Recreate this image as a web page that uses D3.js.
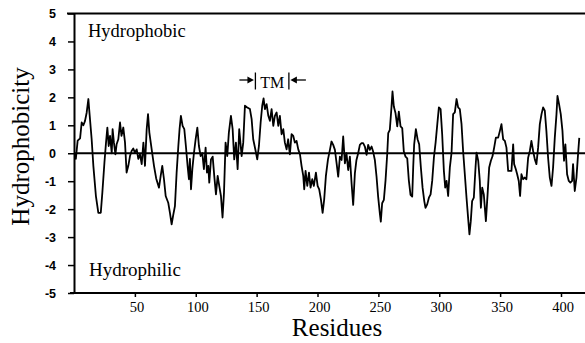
<!DOCTYPE html>
<html><head><meta charset="utf-8">
<script src="https://cdn.jsdelivr.net/npm/d3@7"></script>
<style>body{margin:0;background:#fff}svg{display:block}</style>
</head><body>
<svg id="c" width="585" height="343"></svg>
<script>
const residues = [1,1.5,3,5,6.3,7.7,9,10.4,11.8,12.6,14.5,15.9,18,20,22,23.3,25,26.3,27.4,28.5,29.6,31,31.7,32.8,34,35,36.4,37.8,39,40.5,41.9,43.2,44.6,46,47.3,48.7,50,51.5,52.8,54.2,55.6,57,58.3,59.7,60.8,61.9,63.8,65.7,
67.5,69.8,71.2,72.5,73.9,75.3,77.4,78.8,80.2,81.6,82.9,84.3,85.7,86.7,87.8,89.2,90.6,91.9,93.3,94.4,95.2,96.1,97.2,98.5,99.9,101.3,102.6,104,105.4,106.7,108.1,109.2,110.3,111.1,112.5,113.9,115.2,116.6,118,119.3,120.7,122,123.2,124.5,125.9,127.2,128.9,130.3,131.6,133,134.4,135.7,
137.7,139,140.4,142.3,144.5,145.9,147.2,149.2,150.5,151.9,153.3,154.6,155.7,156.8,158.2,159.6,160.9,162.3,163.7,165,166.4,167.8,169.1,170.5,171.9,173.2,174.6,175.9,177.3,178.7,180.1,181.4,182.8,184.2,185.6,186.9,188.3,189.1,190.2,191.6,193,194.3,195.7,197,198.7,200.1,201.4,202.8,204.2,205.5,206.9,208.6,
210.2,211.5,212.9,214.3,215.7,217,218.4,219.8,221.1,222.5,223.8,225.2,226.6,228,229.3,230.7,232,233.4,234.8,236.2,237.5,238.9,240.3,241.6,243,244.4,245.7,247.1,248.5,249.8,251.2,252,253.1,254.5,255.9,257.3,258.1,259.4,260.8,261.6,262.7,264.1,265.5,266.8,268.2,269.6,270.9,272.3,273.7,275,276.4,277.8,
278.6,279.4,280.8,282.2,283.5,284.9,286.3,287.7,288.7,290.1,291.5,292.9,294.2,295.6,297,298.4,299.7,301.1,302.4,303.8,304.9,306,307.3,308.7,310.1,311.4,312.8,314.2,315.5,316.9,318.3,319.6,321,322.4,323.7,324.8,325.9,327,328.4,329.8,330.6,332,333.3,334.2,335.3,336.6,338.3,339.7,341,342.4,343.8,345.1,346.5,
348.4,349.8,351.1,352.5,353.9,355.2,356.6,358,359.3,360.7,361.5,362.9,364,365.3,366.4,367.5,368.9,370.2,371.6,373,374.4,375.7,377.1,378.5,379.8,381.2,382.6,384,385.3,386.7,388,389.4,390.8,392.2,393.5,394.9,396.3,397.1,398.4,399.8,401.2,402.5,403.6,405,406.4,407.7,409.1,409.9,411.3,412.7,414,415];
const hydrophobicity = [0,-0.2,0.45,0.53,1.1,1.0,1.15,1.45,1.94,1.5,0.5,-0.45,-1.53,-2.13,-2.13,-1.4,-0.33,0.38,0.92,0.26,0.62,0,0.86,0.38,-0.04,0.32,0.5,1.1,0.62,0.92,0.38,-0.69,-0.45,-0.1,0.08,0.17,0.02,0.14,-0.2,-0.04,-0.39,0.38,-0.45,0.86,1.4,0.74,0.14,-0.45,
-0.9,-1.23,-0.81,-0.45,-0.93,-1.53,-1.77,-2.13,-2.54,-2.19,-1.89,-0.69,0.26,0.86,1.34,0.98,0.86,0.26,-0.45,-0.93,-0.2,-1.29,-0.57,0,0.5,0.92,0.26,-0.1,0,-0.57,0.2,-0.69,-0.45,-1.05,-0.22,-0.12,-0.81,-1.47,-0.81,-1.17,-1.53,-2.3,-1.41,0.38,-0.1,0.74,1.34,0.86,-0.22,0.38,-0.57,0.86,
-0.1,0.38,1.7,1.64,1.58,1.22,0.5,0.08,-0.22,0.26,1.1,1.7,1.96,1.58,1.76,1.34,1.16,1.58,0.98,1.34,1.46,0.98,1.34,0.68,0.86,0.38,0.14,0.5,-0.04,0.68,0.62,0.38,0.44,0.14,-0.04,-0.45,-0.81,-1.29,-0.63,-1.17,-0.69,-1.23,-0.93,-1.17,-0.69,-1.17,-1.29,-1.65,-2.13,-1.65,-0.81,-0.22,
0.12,0.42,0.3,0.12,-0.36,-0.84,-0.12,-0.24,0.6,-0.36,0,-0.6,-0.12,-1.08,-1.85,-0.72,-0.24,0,0.3,0.36,0.36,0.24,-0.06,0.3,0.12,0.24,0.06,-0.24,-0.84,-1.55,-2.15,-2.45,-1.79,-1.67,-0.96,0,0.72,0.84,1.67,2.21,1.67,1.43,0.96,1.49,0.96,0.9,0.06,-0.12,-0.18,-0.96,-1.49,-1.55,
-0.51,0.32,0.86,0.5,0.32,-0.51,-1.23,-1.71,-1.95,-1.83,-1.59,-1.47,-0.99,-0.16,0.38,1.04,1.64,1.58,0.68,-0.63,-1.23,-0.99,-1.53,-0.51,0.02,1.4,1.46,1.94,1.64,1.58,1.04,0.08,-0.75,-1.59,-2.31,-2.9,-2.43,-1.71,-1.59,-0.51,0.02,-0.27,-0.99,-1.95,-1.23,-1.47,-2.43,-1.47,-0.51,-0.27,-0.1,0.2,0.56,
0.56,0.8,1.04,0.5,0.44,0.2,-0.63,-0.63,-0.63,0.32,-0.39,-0.57,-0.75,-0.99,-1.53,-0.75,-0.93,-0.87,-0.93,-0.16,0.08,0.44,0.08,-0.22,-0.39,0.2,1.04,1.4,1.64,1.52,0.8,-0.16,-0.87,-1.17,-0.51,0.56,1.4,2.05,1.76,1.4,0.8,-0.27,0.32,-0.75,-0.99,-1.05,-0.99,-0.39,-1.35,-0.87,-0.04,0.55];
const yTicks = [-5,-4,-3,-2,-1,0,1,2,3,4,5];
const xTicks = [50,100,150,200,250,300,350,400];
const tmRange = [149, 176.5];

const svg = d3.select("#c");
const W = 585;
const x = d3.scaleLinear().domain([0, 420]).range([74, 74 + 1.2175 * 420]);
const y = d3.scaleLinear().domain([-5, 5]).range([293, 13.5]);

// y axis
const ya = svg.append("g").attr("transform", `translate(${x(0)},0)`)
  .call(d3.axisLeft(y).tickValues(yTicks).tickSize(6).tickSizeOuter(0).tickFormat(d => String(d)));
ya.select(".domain").attr("stroke", "#000").attr("stroke-width", 2);
ya.selectAll(".tick line").attr("stroke", "#000").attr("stroke-width", 1.5);
ya.selectAll(".tick text").attr("x", -18).attr("font-family", "Liberation Sans, Arial, sans-serif")
  .attr("font-size", 12.5).attr("font-weight", "bold").attr("fill", "#000");

// x axis
const xa = svg.append("g").attr("transform", `translate(0,${y(-5)})`)
  .call(d3.axisBottom(x).tickValues(xTicks).tickSize(4).tickSizeOuter(0));
xa.select(".domain").remove();
xa.selectAll(".tick line").attr("stroke", "#000").attr("stroke-width", 1.5);
xa.selectAll(".tick text").attr("y", 9).attr("dx", 1.5).attr("font-family", "Liberation Serif, Times New Roman, serif")
  .attr("font-size", 14.5).attr("fill", "#000");
svg.append("line").attr("x1", 70).attr("x2", W).attr("y1", y(-5)).attr("y2", y(-5))
  .attr("stroke", "#000").attr("stroke-width", 2);

// top frame line
svg.append("line").attr("x1", 67).attr("x2", W).attr("y1", y(5)).attr("y2", y(5))
  .attr("stroke", "#000").attr("stroke-width", 2);

// zero line
svg.append("line").attr("x1", x(0)).attr("x2", W).attr("y1", y(0)).attr("y2", y(0))
  .attr("stroke", "#000").attr("stroke-width", 2);

// data line
const pts = residues.map((r, i) => [r, hydrophobicity[i]]);
svg.append("path").datum(pts)
  .attr("d", d3.line().x(d => x(d[0])).y(d => y(d[1])))
  .attr("fill", "none").attr("stroke", "#000").attr("stroke-width", 1.8).attr("stroke-linejoin", "round");

// labels
const serif = "Liberation Serif, Times New Roman, serif";
svg.append("text").attr("x", 88).attr("y", 37).attr("font-family", serif).attr("font-size", 18.5).text("Hydrophobic");
svg.append("text").attr("x", 89).attr("y", 276).attr("font-family", serif).attr("font-size", 19).text("Hydrophilic");
svg.append("text").attr("x", 337).attr("y", 336).attr("text-anchor", "middle").attr("font-family", serif).attr("font-size", 25).text("Residues");
svg.append("text").attr("transform", "translate(29,146.5) rotate(-90)").attr("text-anchor", "middle")
  .attr("font-family", serif).attr("font-size", 25).text("Hydrophobicity");

// TM annotation
const ay = 80;
const xl = x(tmRange[0]), xr = x(tmRange[1]);
const g = svg.append("g").attr("stroke", "#000").attr("stroke-width", 1.3);
g.append("line").attr("x1", xl).attr("x2", xl).attr("y1", 72.5).attr("y2", 89.5);
g.append("line").attr("x1", xr).attr("x2", xr).attr("y1", 72.5).attr("y2", 89.5);
g.append("line").attr("x1", xl - 16).attr("x2", xl - 4).attr("y1", ay).attr("y2", ay);
g.append("line").attr("x1", xr + 4).attr("x2", xr + 17).attr("y1", ay).attr("y2", ay);
svg.append("path").attr("d", `M${xl-1.5},${ay} L${xl-8},${ay-3.5} L${xl-8},${ay+3.5} Z`).attr("fill", "#000");
svg.append("path").attr("d", `M${xr+1.5},${ay} L${xr+8},${ay-3.5} L${xr+8},${ay+3.5} Z`).attr("fill", "#000");
svg.append("text").attr("x", (xl + xr) / 2).attr("y", 87.5).attr("text-anchor", "middle")
  .attr("font-family", serif).attr("font-size", 16).text("TM");
</script>
</body></html>
